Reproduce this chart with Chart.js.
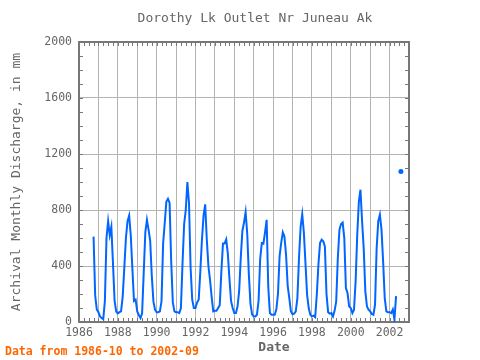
<!DOCTYPE html>
<html><head><meta charset="utf-8">
<script src="https://cdn.jsdelivr.net/npm/chart.js@4.4.0/dist/chart.umd.min.js"></script>
<style>html,body{margin:0;padding:0;background:#fff;}canvas{display:block;}</style>
</head><body>
<canvas id="c" width="480" height="360"></canvas>
<script>
const chartTitle = 'Dorothy Lk Outlet Nr Juneau Ak';
const yAxisTitle = 'Archival Monthly Discharge, in mm';
const xAxisTitle = 'Date';
const footNote = 'Data from 1986-10 to 2002-09';

const startYear = 1986, startMonth = 10;   // first value = Oct 1986
// monthly discharge (mm), water years Oct..Sep
const wy1987 = [610, 190, 90, 70, 40, 28, 20, 150, 600, 720, 620, 680];
const wy1988 = [420, 150, 75, 62, 70, 76, 180, 385, 600, 720, 760, 620];
const wy1989 = [380, 150, 160, 76, 50, 28, 60, 350, 640, 730, 660, 580];
const wy1990 = [330, 147, 88, 70, 70, 76, 147, 560, 707, 860, 880, 850];
const wy1991 = [430, 140, 76, 70, 70, 64, 100, 420, 700, 800, 1000, 850];
const wy1992 = [385, 159, 100, 100, 140, 159, 362, 588, 760, 840, 590, 400];
const wy1993 = [300, 180, 76, 80, 80, 100, 120, 360, 560, 560, 590, 490];
const wy1994 = [310, 150, 100, 64, 64, 110, 220, 460, 650, 710, 785, 630];
const wy1995 = [340, 130, 55, 40, 40, 52, 150, 450, 564, 560, 640, 730];
const wy1996 = [250, 64, 52, 52, 52, 90, 200, 470, 565, 640, 610, 480];
const wy1997 = [260, 170, 76, 55, 60, 76, 171, 457, 680, 770, 640, 420];
const wy1998 = [195, 100, 52, 40, 45, 35, 195, 409, 564, 588, 576, 540];
const wy1999 = [200, 70, 60, 64, 40, 80, 147, 457, 660, 700, 710, 600];
const wy2000 = [243, 207, 112, 100, 64, 88, 290, 623, 860, 945, 720, 528];
const wy2001 = [219, 112, 88, 76, 57, 52, 123, 528, 720, 766, 660, 433];
const wy2002 = [171, 76, 70, 70, 64, 90, 16, 185, null, null, 1075, null];

const xTickLabels = ['1986','1988','1990','1992','1994','1996','1998','2000','2002'];
const yTickValues = [0, 400, 800, 1200, 1600, 2000];

const discharge = [].concat(wy1987, wy1988, wy1989, wy1990, wy1991, wy1992, wy1993, wy1994,
  wy1995, wy1996, wy1997, wy1998, wy1999, wy2000, wy2001, wy2002);
const points = discharge.map((v, i) => ({ x: startYear + (startMonth - 1 + i) / 12, y: v }));

const GREY = '#666666';
const FRAME = '#777777';
const MONO = '"DejaVu Sans Mono", "Liberation Mono", monospace';

const decor = {
  id: 'decor',
  beforeDatasetsDraw(chart) {
    const { ctx, chartArea: a, scales: { x, y } } = chart;
    ctx.save();
    ctx.strokeStyle = FRAME;
    ctx.lineWidth = 1;
    ctx.beginPath();
    for (let v = x.min; v <= x.max + 1e-9; v += 0.25) {
      const px = Math.round(x.getPixelForValue(v)) + 0.5;
      ctx.moveTo(px, a.bottom); ctx.lineTo(px, a.bottom - 4);
      ctx.moveTo(px, a.top); ctx.lineTo(px, a.top + 4);
    }
    for (let v = y.min; v <= y.max; v += 100) {
      const py = Math.round(y.getPixelForValue(v)) + 0.5;
      ctx.moveTo(a.left, py); ctx.lineTo(a.left + 4, py);
      ctx.moveTo(a.right, py); ctx.lineTo(a.right - 4, py);
    }
    ctx.stroke();
    ctx.lineWidth = 2;
    ctx.strokeRect(a.left, a.top, a.right - a.left, a.bottom - a.top);
    ctx.restore();
  },
  afterDraw(chart) {
    const { ctx, chartArea: a } = chart;
    ctx.save();
    ctx.fillStyle = GREY;
    ctx.textBaseline = 'middle';
    ctx.textAlign = 'center';
    ctx.font = '13px ' + MONO;
    ctx.fillText(chartTitle, 255, 18.5);
    ctx.font = 'bold 13px ' + MONO;
    ctx.fillText(xAxisTitle, 274, 348);
    ctx.save();
    ctx.translate(17, (a.top + a.bottom) / 2);
    ctx.rotate(-Math.PI / 2);
    ctx.font = '13px ' + MONO;
    ctx.fillText(yAxisTitle, 0, 0);
    ctx.restore();
    ctx.textAlign = 'left';
    ctx.fillStyle = '#ff6600';
    ctx.font = 'bold 11.5px ' + MONO;
    ctx.fillText(footNote, 5, 352.5);
    ctx.restore();
  }
};

new Chart(document.getElementById('c'), {
  type: 'line',
  data: {
    datasets: [{
      data: points,
      borderColor: '#0066ff',
      backgroundColor: '#0066ff',
      borderWidth: 2,
      tension: 0,
      spanGaps: false,
      pointRadius: ctx => {
        const i = ctx.dataIndex, d = discharge;
        if (d[i] == null) return 0;
        const prev = i > 0 ? d[i - 1] : null, next = i < d.length - 1 ? d[i + 1] : null;
        return (prev == null && next == null) ? 2.5 : 0;
      },
      pointHoverRadius: 0,
      pointBorderWidth: 0
    }]
  },
  options: {
    responsive: false,
    devicePixelRatio: 1,
    animation: false,
    events: [],
    layout: { padding: { top: 42, right: 71, bottom: 0, left: 0 } },
    plugins: { legend: { display: false }, title: { display: false }, tooltip: { enabled: false } },
    scales: {
      x: {
        type: 'linear', min: 1986, max: 2003,
        afterFit: s => { s.height = 38; },
        ticks: {
          stepSize: 1, autoSkip: false, maxRotation: 0, padding: 4,
          color: GREY, font: { family: MONO, size: 11.5 },
          callback: v => xTickLabels.includes(String(v)) ? String(v) : ''
        },
        grid: { color: '#b4b4b4', lineWidth: 1, drawTicks: false },
        border: { display: false }
      },
      y: {
        min: 0, max: 2000,
        afterFit: s => { s.width = 79; },
        ticks: {
          stepSize: 400, padding: 7, color: GREY, font: { family: MONO, size: 11.5 },
          callback: v => yTickValues.includes(v) ? String(v) : ''
        },
        grid: { color: '#b4b4b4', lineWidth: 1, drawTicks: false },
        border: { display: false }
      }
    }
  },
  plugins: [decor]
});
</script>
</body></html>
